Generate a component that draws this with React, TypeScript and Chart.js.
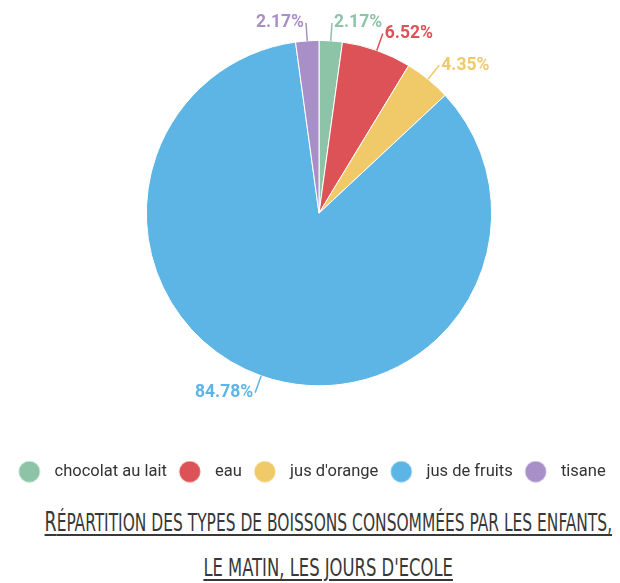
import React, { useEffect, useRef } from 'react';
import { Chart, registerables } from 'chart.js';

Chart.register(...registerables);

const categories = ['chocolat au lait', 'eau', "jus d'orange", 'jus de fruits', 'tisane'];
const percentages = [2.17, 6.52, 4.35, 84.78, 2.17];
const colors = ['#8dc4a7', '#dc5256', '#f0ca68', '#5db5e6', '#a98fc8'];
const titleLine1 = 'Répartition des types de boissons consommées par les enfants,';
const titleLine2 = "le matin, les jours d'ecole";

const makeDot = (color: string) => {
  const c = document.createElement('canvas');
  c.width = 32;
  c.height = 22;
  const g = c.getContext('2d')!;
  g.fillStyle = color;
  g.beginPath();
  g.arc(15, 11, 10.5, 0, Math.PI * 2);
  g.fill();
  return c;
};

// shifts the pie's drawing area a little to the right, leaving the legend full width
const shiftArea = {
  id: 'shiftArea',
  afterLayout(chart: any) {
    const a = chart.chartArea;
    a.left += 18;
    a.width = a.right - a.left;
  },
};

const outerLabels = {
  id: 'outerLabels',
  afterDatasetsDraw(chart: any) {
    const ctx = chart.ctx;
    const meta = chart.getDatasetMeta(0);
    const data = chart.data.datasets[0].data as number[];
    ctx.save();
    ctx.font = 'bold 17.5px Roboto';
    ctx.textBaseline = 'middle';
    meta.data.forEach((arc: any, i: number) => {
      const { x, y, startAngle, endAngle, outerRadius } = arc.getProps(
        ['x', 'y', 'startAngle', 'endAngle', 'outerRadius'],
        true
      );
      const mid = (startAngle + endAngle) / 2;
      const cos = Math.cos(mid);
      const sin = Math.sin(mid);
      const x0 = x + cos * outerRadius;
      const y0 = y + sin * outerRadius;
      const x1 = x + cos * (outerRadius + 18);
      const y1 = y + sin * (outerRadius + 18);
      ctx.strokeStyle = colors[i];
      ctx.lineWidth = 1.5;
      ctx.beginPath();
      ctx.moveTo(x0, y0);
      ctx.lineTo(x1, y1);
      ctx.stroke();
      const right = cos >= 0;
      ctx.textAlign = right ? 'left' : 'right';
      ctx.fillStyle = colors[i];
      ctx.fillText(data[i].toFixed(2) + '%', x1 + (right ? 2 : -2), y1);
    });
    ctx.restore();
  },
};

export default function App() {
  const ref = useRef<HTMLCanvasElement>(null);

  useEffect(() => {
    if (!ref.current) return;
    const dots = colors.map(makeDot);
    const chart = new Chart(ref.current, {
      type: 'pie',
      data: {
        labels: categories,
        datasets: [
          {
            data: percentages,
            backgroundColor: colors,
            borderColor: '#ffffff',
            borderWidth: 1,
          },
        ],
      },
      options: {
        animation: false,
        responsive: false,
        devicePixelRatio: 1,
        layout: { padding: { top: 40, bottom: 5.1, left: 0, right: 0 } },
        plugins: {
          tooltip: { enabled: false },
          legend: {
            position: 'bottom',
            title: {
              display: true,
              text: '',
              padding: { top: 59.1, bottom: 0 },
              font: { size: 10, lineHeight: 1 },
            },
            labels: {
              usePointStyle: true,
              pointStyleWidth: 32,
              boxHeight: 16.5,
              padding: 8,
              color: '#333333',
              font: { family: 'Roboto', size: 16.5 },
              generateLabels: () =>
                categories.map((c, i) => ({
                  text: c,
                  fillStyle: colors[i],
                  strokeStyle: colors[i],
                  lineWidth: 0,
                  pointStyle: dots[i],
                  hidden: false,
                  index: i,
                  fontColor: '#333333',
                })),
            },
          },
        },
      },
      plugins: [shiftArea, outerLabels],
    });
    return () => chart.destroy();
  }, []);

  const lineStyle = (scale: number): React.CSSProperties => ({
    display: 'inline-block',
    transform: `scaleX(${scale})`,
    transformOrigin: 'center',
    textDecoration: 'underline',
    textDecorationThickness: '2px',
    textUnderlineOffset: '3px',
    whiteSpace: 'nowrap',
  });

  return (
    <div style={{ position: 'fixed', left: 0, top: 0, width: 620, height: 583, background: '#fff', overflow: 'hidden' }}>
      <canvas ref={ref} width={620} height={495} style={{ position: 'absolute', left: 0, top: 0, width: 620, height: 495 }} />
      <div
        style={{
          position: 'absolute',
          top: 499,
          left: -172,
          width: 1000,
          textAlign: 'center',
          fontFamily: "'Liberation Sans Narrow', 'DejaVu Sans Condensed', sans-serif",
          fontSize: 24,
          lineHeight: '45px',
          color: '#383838',
          textTransform: 'uppercase',
        }}
      >
        <div>
          <span style={lineStyle(0.716)}>
            <span style={{ fontSize: 27 }}>{titleLine1.slice(0, 1)}</span>
            {titleLine1.slice(1)}
          </span>
        </div>
        <div>
          <span style={lineStyle(0.76)}>{titleLine2}</span>
        </div>
      </div>
    </div>
  );
}
